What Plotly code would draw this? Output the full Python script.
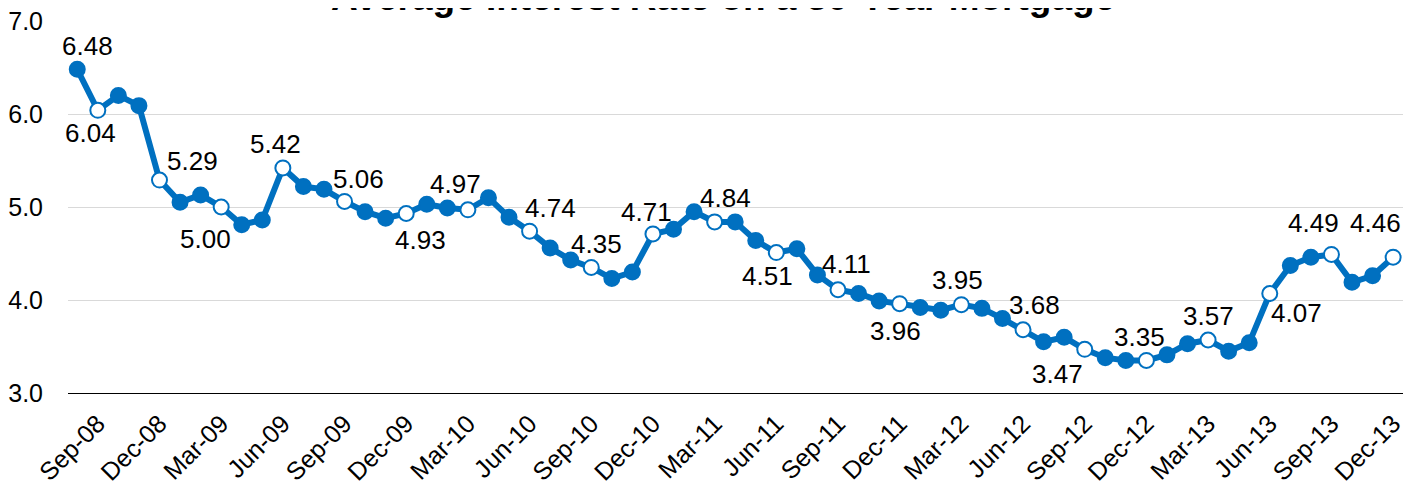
import plotly.graph_objects as go

months = ["Aug-08", "Sep-08", "Oct-08", "Nov-08", "Dec-08",
          "Jan-09", "Feb-09", "Mar-09", "Apr-09", "May-09", "Jun-09", "Jul-09", "Aug-09", "Sep-09", "Oct-09", "Nov-09", "Dec-09",
          "Jan-10", "Feb-10", "Mar-10", "Apr-10", "May-10", "Jun-10", "Jul-10", "Aug-10", "Sep-10", "Oct-10", "Nov-10", "Dec-10",
          "Jan-11", "Feb-11", "Mar-11", "Apr-11", "May-11", "Jun-11", "Jul-11", "Aug-11", "Sep-11", "Oct-11", "Nov-11", "Dec-11",
          "Jan-12", "Feb-12", "Mar-12", "Apr-12", "May-12", "Jun-12", "Jul-12", "Aug-12", "Sep-12", "Oct-12", "Nov-12", "Dec-12",
          "Jan-13", "Feb-13", "Mar-13", "Apr-13", "May-13", "Jun-13", "Jul-13", "Aug-13", "Sep-13", "Oct-13", "Nov-13", "Dec-13"]

rates = [6.48, 6.04, 6.20, 6.09, 5.29,
         5.05, 5.13, 5.00, 4.81, 4.86, 5.42, 5.22, 5.19, 5.06, 4.95, 4.88, 4.93,
         5.03, 4.99, 4.97, 5.10, 4.89, 4.74, 4.56, 4.43, 4.35, 4.23, 4.30, 4.71,
         4.76, 4.95, 4.84, 4.84, 4.64, 4.51, 4.55, 4.27, 4.11, 4.07, 3.99, 3.96,
         3.92, 3.89, 3.95, 3.91, 3.80, 3.68, 3.55, 3.60, 3.47, 3.38, 3.35, 3.35,
         3.41, 3.53, 3.57, 3.45, 3.54, 4.07, 4.37, 4.46, 4.49, 4.19, 4.26, 4.46]

tick_months = ["Sep-08", "Dec-08", "Mar-09", "Jun-09", "Sep-09", "Dec-09", "Mar-10", "Jun-10",
               "Sep-10", "Dec-10", "Mar-11", "Jun-11", "Sep-11", "Dec-11", "Mar-12", "Jun-12",
               "Sep-12", "Dec-12", "Mar-13", "Jun-13", "Sep-13", "Dec-13"]

labeled_months = ["Aug-08"] + tick_months

title_text = "Average Interest Rate on a 30-Year Mortgage"

# label offsets (px) for each labeled point, in order of labeled_months (dy positive = down)
label_dx = [10, -7, 33, -16, -7, 14, 14, -12, 21, 5, -6, 11, -9, 9, -4, -4, 11, -27, -7, 0, 27, -18, -18]
label_dy = [-23, 23, -19, 32, -24, -22, 26, -26, -23, -23, -22, -24, 23, -26, 27, -25, -25, 25, -23, -24, 20, -31, -34]

BLUE = "#0070C0"
FONT = "Liberation Sans, Arial, sans-serif"

quarter_set = set(tick_months)
marker_fill = ["white" if m in quarter_set else BLUE for m in months]

fig = go.Figure()
fig.add_trace(go.Scatter(
    x=months, y=rates, mode="lines+markers",
    line=dict(color=BLUE, width=6),
    marker=dict(size=15, color=marker_fill, line=dict(color=BLUE, width=2)),
    hoverinfo="x+y", showlegend=False,
))

rate_by_month = dict(zip(months, rates))
for m, dx, dy in zip(labeled_months, label_dx, label_dy):
    fig.add_annotation(
        x=m, y=rate_by_month[m], text=f"{rate_by_month[m]:.2f}",
        showarrow=False, xshift=dx, yshift=-dy,
        font=dict(family=FONT, size=26, color="black"),
    )

fig.add_annotation(
    xref="paper", yref="paper", x=0.4906, y=1.0, yanchor="middle", yshift=24,
    text=f"<b>{title_text}</b>", showarrow=False,
    font=dict(family=FONT, size=37, color="black"),
)

fig.update_layout(
    width=1406, height=479,
    margin=dict(l=60, r=11, t=13, b=94),
    paper_bgcolor="white", plot_bgcolor="white",
    font=dict(family=FONT, size=25, color="black"),
    xaxis=dict(
        type="category", range=[-0.45, 64.48], automargin=False,
        tickmode="array", tickvals=tick_months, ticktext=tick_months,
        tickangle=-45, showgrid=False, showline=True, linecolor="black", linewidth=1,
        ticks="", ticklabelstandoff=5, ticklabeloverflow="allow",
        tickfont=dict(family=FONT, size=25, color="black"),
    ),
    yaxis=dict(
        range=[3, 7], dtick=1, tickformat=".1f", showgrid=True, gridcolor="#D9D9D9", gridwidth=1,
        zeroline=False, showline=False, ticks="", ticklabelstandoff=24, automargin=False,
        ticklabeloverflow="allow",
        tickfont=dict(family=FONT, size=25, color="black"),
    ),
)

fig.write_html("out.html")
